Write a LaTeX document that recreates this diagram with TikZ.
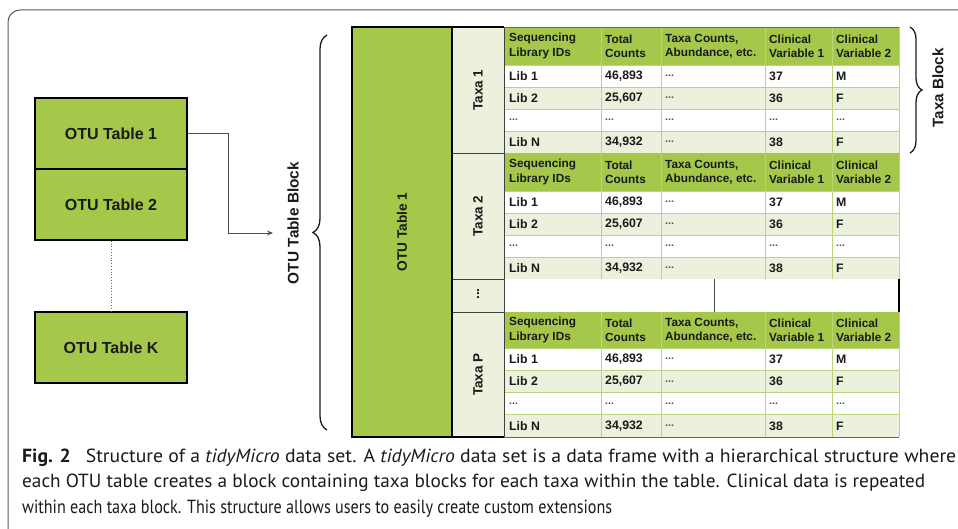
\documentclass[tikz,border=0pt]{standalone}
\usepackage{fontspec}
\usepackage{graphicx}
\setmainfont{Liberation Sans}
\newfontfamily\capfont{PT Sans}
\usetikzlibrary{decorations.pathreplacing,arrows.meta}
\definecolor{grn}{HTML}{A5C84B}
\definecolor{lite}{HTML}{EBF1DC}
\definecolor{gridc}{HTML}{B9D67A}
\definecolor{ink}{HTML}{1A1A1A}
\newcommand\dotcell{{\fontsize{10.5}{11}\selectfont\bfseries\color{black!70}...}}
\newcommand\datarow[7]{%
  \pgfmathsetmacro\tbR{#2}%
  \node[cell] (#1c1) at (509,\tbR) {#3};
  \node[cell] (#1c2) at (605,\tbR) {#4};
  \node[cell] (#1c3) at (665,\tbR) {#5};
  \node[cell] (#1c4) at (769,\tbR) {#6};
  \node[cell] (#1c5) at (836,\tbR) {#7};
}
\newcommand\taxablock[5]{%
  \pgfmathsetmacro\tbH{#1+#2}%
  \pgfmathsetmacro\tbA{\tbH+#3}%
  \pgfmathsetmacro\tbB{\tbA+#3}%
  \pgfmathsetmacro\tbC{\tbB+#3}%
  \pgfmathsetmacro\tbD{\tbC+#3}%
  \pgfmathsetmacro\tbM{#1+#2/2}%
  \pgfmathsetmacro\tbT{(#1+\tbD)/2}%
  \fill[grn] (504,#1) rectangle (899,\tbH);
  \fill[white] (504,\tbH) rectangle (899,\tbA);
  \fill[lite] (504,\tbA) rectangle (899,\tbB);
  \fill[white] (504,\tbB) rectangle (899,\tbC);
  \fill[lite] (504,\tbC) rectangle (899,\tbD);
  \foreach \yy in {\tbH,\tbA,\tbB,\tbC,\tbD} \draw[gridline] (504,\yy) -- (899,\yy);
  \foreach \xx in {601,661,765,832,899} \draw[gridline] (\xx,#1) -- (\xx,\tbD);
  \draw[taxacell] (452,#1) rectangle (504,\tbD);
  \node[taxalbl] (#4t) at (478,\tbT) {#5};
  \node[hcell] (#4h1) at (509,\tbM) {Sequencing\\Library IDs};
  \node[hcell] (#4h2) at (605,\tbM) {Total\\Counts};
  \node[hcell] (#4h3) at (665,\tbM) {Taxa Counts,\\Abundance, etc.};
  \node[hcell] (#4h4) at (769,\tbM) {Clinical\\Variable 1};
  \node[hcell] (#4h5) at (836,\tbM) {Clinical\\Variable 2};
  \datarow{#4a}{(\tbH+\tbA)/2}{Lib 1}{46,893}{\dotcell}{37}{M}
  \datarow{#4b}{(\tbA+\tbB)/2}{Lib 2}{25,607}{\dotcell}{36}{F}
  \datarow{#4c}{(\tbB+\tbC)/2}{\dotcell}{\dotcell}{\dotcell}{\dotcell}{\dotcell}
  \datarow{#4d}{(\tbC+\tbD)/2}{Lib N}{34,932}{\dotcell}{38}{F}
}
\begin{document}
\begin{tikzpicture}[x=1pt,y=-1pt,
  otubox/.style={draw=black, line width=1.6pt, fill=grn, minimum width=152pt,
    minimum height=71pt, inner sep=0pt, font=\fontsize{16}{18}\selectfont\bfseries, text=ink},
  cell/.style={anchor=west, inner sep=0pt, font=\fontsize{12.3}{14}\selectfont\bfseries, text=ink},
  hcell/.style={anchor=west, inner sep=0pt, align=left, font=\fontsize{11.8}{14.2}\selectfont\bfseries, text=ink},
  gridline/.style={draw=gridc, line width=0.9pt},
  taxacell/.style={draw=black!75, line width=0.9pt, fill=lite},
  taxalbl/.style={rotate=90, inner sep=0pt, font=\fontsize{13.5}{15}\selectfont\bfseries, text=ink},
  biglbl/.style={rotate=90, inner sep=0pt, font=\fontsize{15.4}{17}\selectfont\bfseries, text=ink},
  conn/.style={draw=black!70, line width=0.9pt, -{Stealth[length=6pt,width=5pt]}},
  bracestyle/.style={draw=ink, line width=1.3pt, decorate},
  captext/.style={anchor=base west, inner sep=0pt, font=\capfont\fontsize{19}{22}\selectfont, text=ink}
]
\useasboundingbox (0,0) rectangle (958,529);
% frame
\draw[black!65, line width=1pt, rounded corners=12pt] (958,10) -- (8,10) -- (8,529);
% left OTU tables
\node[otubox] (t1) at (111,133.5) {OTU Table 1};
\node[otubox] (t2) at (111,204.5) {OTU Table 2};
\node[otubox] (tk) at (111,347.5) {OTU Table K};
\draw[black!60, line width=0.8pt, dotted] (t2.south) -- (tk.north);
\coordinate (bend) at (228,233);
\coordinate (tip) at (273,233);
\draw[conn] (t1.east) -| (bend) -- (tip);
\node[biglbl] (blocklbl) at (293,223) {OTU Table Block};
\draw[bracestyle, decoration={brace, amplitude=14pt}] (327,430) -- (327,35);
% OTU column
\fill[grn] (352,27) rectangle (452,437);
% taxa blocks
\taxablock{27}{38}{22}{ba}{Taxa 1}
\taxablock{153}{38}{22}{bb}{Taxa 2}
\taxablock{312}{36}{22.25}{bp}{Taxa P}
% dots row
\fill[white] (504,279.5) rectangle (899,311.5);
\draw[taxacell] (452,279) rectangle (504,312);
\node[taxalbl] (tdots) at (478,294) {...};
\draw[black!70, line width=0.9pt] (714,279) -- (714,312);
\draw[black, line width=1.8pt] (899,279) -- (899,312);
% outer borders
\draw[black!60, line width=0.8pt] (504,27) -- (899,27);
\draw[black!60, line width=0.8pt] (504,437) -- (899,437);
\draw[black, line width=1.6pt] (352,27) rectangle (452,437);
\draw[black, line width=1.2pt] (452,27) -- (504,27);
\draw[black, line width=1.2pt] (452,437) -- (504,437);
\node[taxalbl, font=\fontsize{13.7}{15}\selectfont\bfseries] (otucol) at (402,232) {OTU Table 1};
% taxa block brace
\draw[bracestyle, decoration={brace, amplitude=12pt}] (910,27) -- (910,153);
\node[biglbl, font=\fontsize{15.2}{17}\selectfont\bfseries] (taxablk) at (938,88) {Taxa Block};
% caption
\node[captext] (cap1) at (22,462) {\resizebox{934pt}{\height}{\textbf{Fig. 2}\hspace{0.5em} Structure of a \textit{tidyMicro} data set. A \textit{tidyMicro} data set is a data frame with a hierarchical structure where}};
\node[captext] (cap2) at (22,487) {\resizebox{903pt}{\height}{each OTU table creates a block containing taxa blocks for each taxa within the table. Clinical data is repeated}};
\node[captext] (cap3) at (22,513) {\resizebox{590pt}{\height}{within each taxa block. This structure allows users to easily create custom extensions}};
\end{tikzpicture}
\end{document}
